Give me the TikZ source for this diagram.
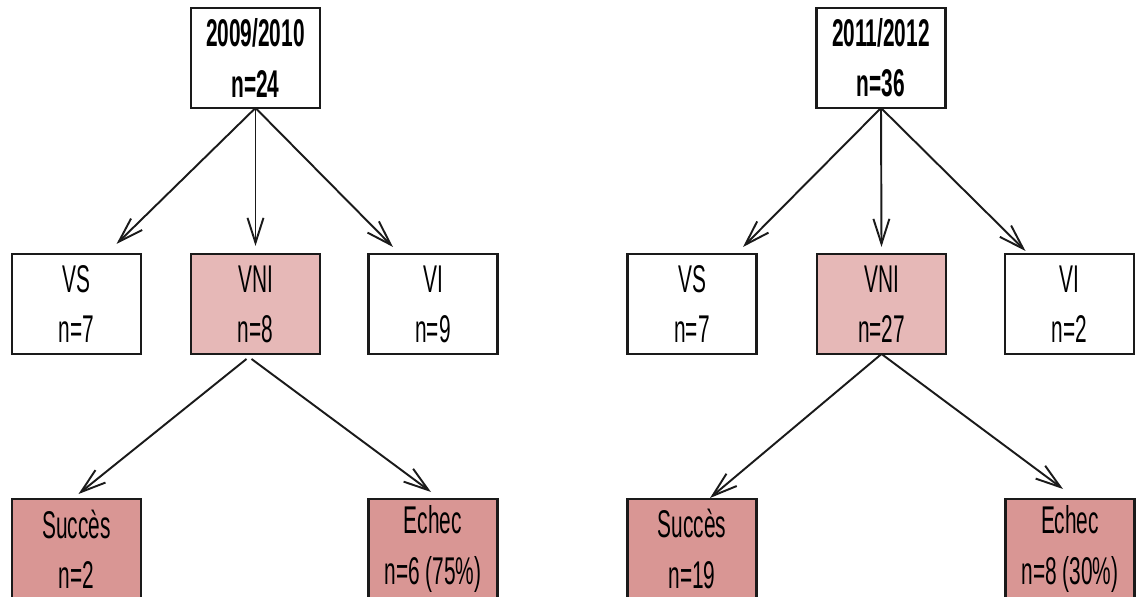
\documentclass[tikz,border=0pt]{standalone}
\usepackage{fontspec}
\setmainfont{Liberation Sans}[FakeStretch=0.54]
\usepackage{tikz}
\usetikzlibrary{
  arrows.meta,
  positioning,
  calc
}
\definecolor{dtLine}{HTML}{1A1A1A}
\definecolor{dtVNI}{HTML}{E6B8B7}
\definecolor{dtOut}{HTML}{D99694}
\tikzset{
  dtnode/.style={
    draw=dtLine, line width=1.4pt, minimum width=2.58cm, minimum height=2cm,
    inner sep=0pt, outer sep=0pt, align=center,
    font=\fontsize{22}{28.5}\selectfont, text=black
  },
  yearbox/.style={dtnode, fill=white, font=\fontsize{22}{28.5}\selectfont\bfseries},
  groupbox/.style={dtnode, fill=white},
  vnibox/.style={dtnode, fill=dtVNI},
  outbox/.style={dtnode, fill=dtOut},
  branch/.style={-{Straight Barb[length=5mm, width=3.2mm, line width=1.1pt]}, line width=1.1pt, dtLine}
}

\begin{document}
\begin{tikzpicture}[x=0.02cm, y=0.02cm]
  \useasboundingbox (0,0) rectangle (1136,597);
  % 2009/2010
  \node[yearbox] (topA) at (255.5,539) {2009/2010\\n=24};
  \node[groupbox] (vsA) at (76.5,293) {VS\\n=7};
  \node[vnibox] (vniA) at (255.5,293) {VNI\\n=8};
  \node[groupbox] (viA) at (433,293) {VI\\n=9};
  \node[outbox] (sucA) at (76.5,48) {Succès\\n=2};
  \node[outbox] (echA) at (433,48) {Echec\\n=6 (75\%)};
  \draw[branch] (topA.south) -- ([shift={(40,10)}]vsA.north);
  \draw[branch] (topA.south) -- ([shift={(0,8)}]vniA.north);
  \draw[branch] (topA.south) -- ([shift={(-40,7)}]viA.north);
  \draw[branch] ([shift={(-9,-5)}]vniA.south) -- ([shift={(2,5)}]sucA.north);
  \draw[branch] ([shift={(-4,-5)}]vniA.south) -- ([shift={(-2,7)}]echA.north);
  % 2011/2012
  \node[yearbox] (topB) at (881,539) {2011/2012\\n=36};
  \node[groupbox] (vsB) at (692,293) {VS\\n=7};
  \node[vnibox] (vniB) at (881.5,293) {VNI\\n=27};
  \node[groupbox] (viB) at (1069.5,293) {VI\\n=2};
  \node[outbox] (sucB) at (692,48) {Succès\\n=19};
  \node[outbox] (echB) at (1070,48) {Echec\\n=8 (30\%)};
  \draw[branch] (topB.south) -- ([shift={(51,7)}]vsB.north);
  \draw[branch] (topB.south) -- ([shift={(0,7)}]vniB.north);
  \draw[branch] (topB.south) -- ([shift={(-44,3)}]viB.north);
  \draw[branch] (vniB.south) -- ([shift={(18,1)}]sucB.north);
  \draw[branch] (vniB.south) -- ([shift={(-7,10)}]echB.north);
\end{tikzpicture}
\end{document}
